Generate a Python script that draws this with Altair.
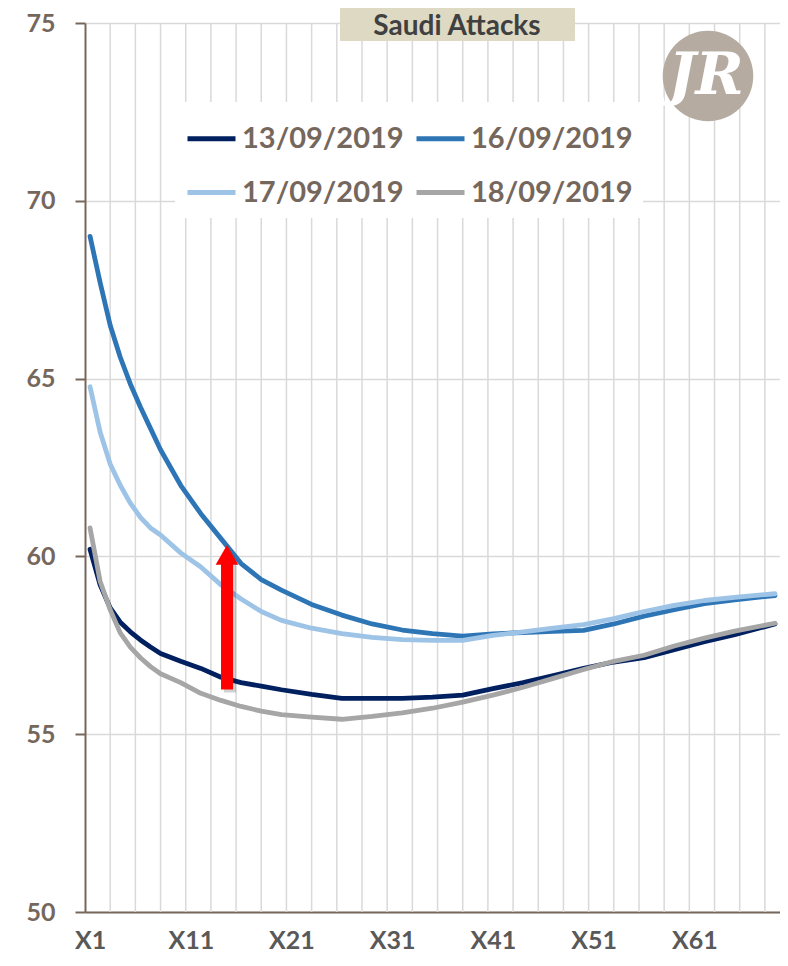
import altair as alt
import pandas as pd

# ---- data ----
x_pos = [1, 2, 3, 4, 5, 6, 7, 8, 10, 12, 14, 16, 18, 20, 23, 26, 29, 32, 35, 38,
         41, 44, 47, 50, 53, 56, 59, 62, 65, 69]
s13 = [60.2, 59.2, 58.55, 58.15, 57.88, 57.65, 57.45, 57.27, 57.05, 56.85, 56.6, 56.45,
       56.35, 56.25, 56.12, 56.01, 56.01, 56.01, 56.04, 56.1, 56.28, 56.45, 56.65, 56.85,
       57.03, 57.15, 57.38, 57.6, 57.8, 58.1]
s16 = [69.0, 67.7, 66.5, 65.6, 64.85, 64.2, 63.6, 63.0, 62.0, 61.2, 60.5, 59.8, 59.35,
       59.05, 58.65, 58.35, 58.1, 57.93, 57.83, 57.76, 57.82, 57.86, 57.89, 57.92, 58.1,
       58.32, 58.5, 58.67, 58.78, 58.9]
s17 = [64.77, 63.5, 62.6, 62.0, 61.5, 61.1, 60.8, 60.6, 60.1, 59.7, 59.2, 58.8, 58.45,
       58.2, 57.98, 57.83, 57.72, 57.66, 57.64, 57.64, 57.78, 57.88, 57.98, 58.08, 58.25,
       58.45, 58.62, 58.76, 58.85, 58.95]
s18 = [60.8, 59.3, 58.5, 57.85, 57.45, 57.15, 56.9, 56.7, 56.45, 56.15, 55.95, 55.78,
       55.65, 55.55, 55.48, 55.42, 55.5, 55.6, 55.73, 55.9, 56.1, 56.32, 56.57, 56.82,
       57.05, 57.22, 57.48, 57.7, 57.9, 58.12]

series_names = ["13/09/2019", "16/09/2019", "17/09/2019", "18/09/2019"]
series_colors = ["#002060", "#2e75b6", "#9dc3e6", "#a6a6a6"]
series_widths = [4.8, 4.8, 4.8, 6.8]

x_tick_values = [1, 11, 21, 31, 41, 51, 61]
y_tick_values = [50, 55, 60, 65, 70, 75]
grid_x = [3.0, 5.5, 8.0, 10.5, 13.0, 15.5, 18.0, 20.5, 23.0, 25.5, 28.0, 30.5, 33.0,
          35.5, 38.0, 40.5, 43.0, 45.5, 48.0, 50.5, 53.0, 55.5, 58.0, 60.5, 63.0, 65.5, 68.0]

arrow_x = [14.6]
arrow_base = [56.26]
arrow_top = [59.85]
arrow_head = [60.04]

title_text = "Saudi Attacks"
logo_text = "JR"

# ---- build ----
rows = []
for name, vals in zip(series_names, [s13, s16, s17, s18]):
    for i, (x, v) in enumerate(zip(x_pos, vals)):
        rows.append({"x": x, "v": v, "series": name, "o": i})
df = pd.DataFrame(rows)

AX = "#76675d"
x_scale = alt.Scale(domain=[0.5, 69.5], nice=False, zero=False)
y_scale = alt.Scale(domain=[50, 75], nice=False, zero=False)

x_axis = alt.Axis(values=x_tick_values, labelExpr="'X' + datum.value", grid=False,
                  ticks=False, domainColor=AX, domainWidth=2, labelFont="Lato",
                  labelFontSize=25, labelFontWeight="bold", labelColor="#595959",
                  labelPadding=16, title=None, labelFlush=False)
y_axis = alt.Axis(values=y_tick_values, grid=True, gridColor="#d9d9d9", gridWidth=1.5,
                  tickSize=10, tickColor=AX, tickWidth=2, domainColor=AX, domainWidth=2,
                  labelFont="Lato", labelFontSize=25, labelFontWeight="bold",
                  labelColor=AX, labelPadding=20, title=None)

X = lambda f: alt.X(f, scale=x_scale, axis=x_axis, title=None)
Y = lambda f: alt.Y(f, scale=y_scale, axis=y_axis, title=None)

grid = alt.Chart(pd.DataFrame({"gx": grid_x})).mark_rule(
    color="#d9d9d9", strokeWidth=1.5).encode(x=X("gx:Q"))

one = pd.DataFrame({"t": [title_text]})
title_box = alt.Chart(one).mark_rect(color="#ddd9c3").encode(
    x=alt.value(255), x2=alt.value(490), y=alt.value(-15), y2=alt.value(18))
title_txt = alt.Chart(one).mark_text(
    font="Lato", fontSize=28, fontWeight="bold", color="#404040", baseline="middle"
).encode(text="t:N", x=alt.value(372), y=alt.value(4))

logo_df = pd.DataFrame({"t": [logo_text]})
logo_circle = alt.Chart(logo_df).mark_point(
    shape="circle", filled=True, color="#b5aba1", opacity=1, size=8200
).encode(x=alt.value(623), y=alt.value(53))
logo_txt = alt.Chart(logo_df).mark_text(
    font="DejaVu Serif", fontSize=58, fontWeight="bold", color="white",
    baseline="middle", fontStyle="italic"
).encode(text="t:N", x=alt.value(621), y=alt.value(54))

lines = alt.Chart(df).mark_line(strokeCap="round", strokeJoin="round").encode(
    x=X("x:Q"), y=Y("v:Q"),
    color=alt.Color("series:N", scale=alt.Scale(domain=series_names, range=series_colors),
                    legend=alt.Legend(title=None, orient="none", legendX=90, legendY=79,
                                      columns=2, direction="horizontal",
                                      symbolType="stroke", symbolSize=2304,
                                      symbolStrokeWidth=5, labelFont="Lato",
                                      labelFontSize=29, labelFontWeight="bold",
                                      labelColor=AX, fillColor="white", padding=10,
                                      columnPadding=2, rowPadding=12, labelOffset=4,
                                      labelLimit=400)),
    strokeWidth=alt.StrokeWidth("series:N", scale=alt.Scale(domain=series_names,
                                range=series_widths), legend=None),
    order="o:Q",
)

adf = pd.DataFrame({"ax": arrow_x, "ab": arrow_base, "at": arrow_top, "ah": arrow_head})
shadow = alt.Chart(adf).mark_rule(color="#000000", opacity=0.18, strokeWidth=12,
                                  xOffset=3, yOffset=3).encode(
    x=X("ax:Q"), y=Y("ab:Q"), y2="at:Q")
shaft = alt.Chart(adf).mark_rule(color="#ff0000", strokeWidth=12).encode(
    x=X("ax:Q"), y=Y("ab:Q"), y2="at:Q")
head = alt.Chart(adf).mark_point(shape="triangle-up", filled=True, color="#ff0000",
                                 opacity=1, size=520).encode(x=X("ax:Q"), y=Y("ah:Q"))

chart = alt.layer(grid, title_box, title_txt, logo_circle, logo_txt, lines,
                  shadow, shaft, head).properties(
    width=695, height=889, autosize="none",
    padding={"left": 77, "top": 15, "right": 0, "bottom": 46},
).configure_view(stroke=None)

chart.save("out.html", embed_options={"renderer": "svg", "actions": False})
